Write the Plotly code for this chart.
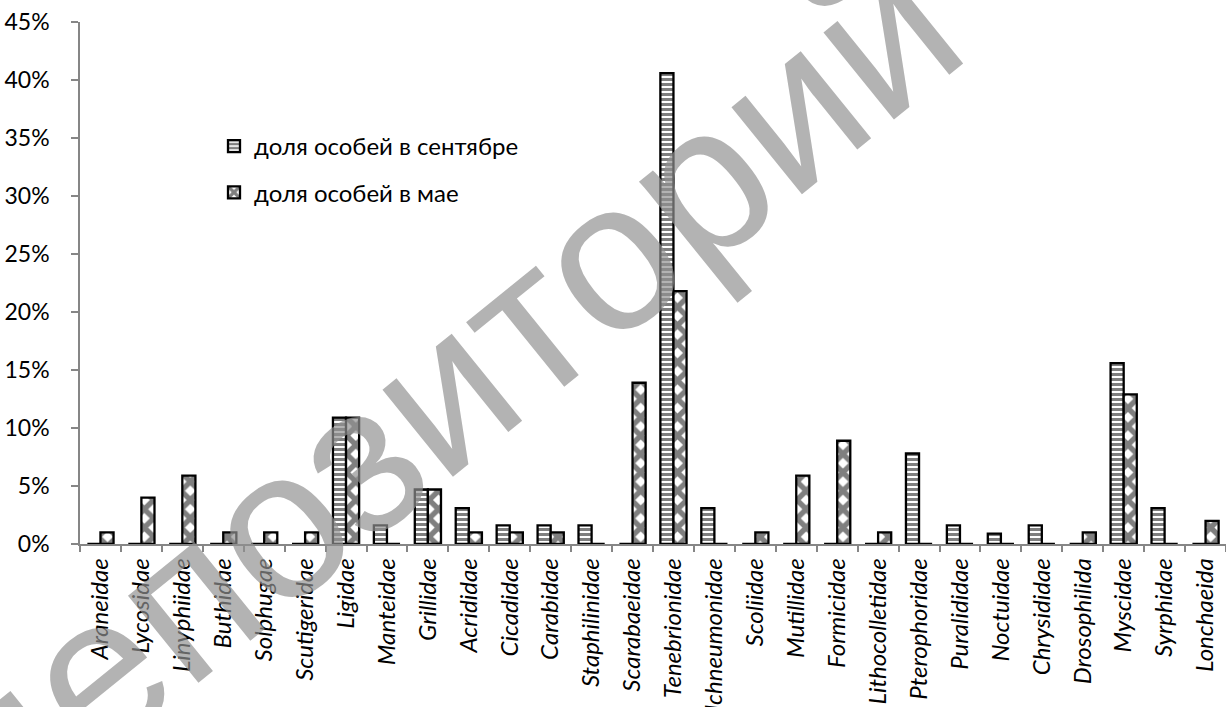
import plotly.graph_objects as go

categories = ["Araneidae", "Lycosidae", "Linyphiidae", "Buthidae", "Solphugae",
              "Scutigeridae", "Ligidae", "Manteidae", "Grillidae", "Acrididae",
              "Cicadidae", "Carabidae", "Staphilinidae", "Scarabaeidae",
              "Tenebrionidae", "Ichneumonidae", "Scoliidae", "Mutillidae",
              "Formicidae", "Lithocolletidae", "Pterophoridae", "Puralididae",
              "Noctuidae", "Chrysididae", "Drosophilida", "Myscidae",
              "Syrphidae", "Lonchaeida"]

september = [0, 0, 0, 0, 0, 0, 10.9, 1.6, 4.7, 3.1, 1.6, 1.6, 1.6, 0,
             40.6, 3.1, 0, 0, 0, 0, 7.8, 1.6, 0.9, 1.6, 0, 15.6, 3.1, 0]
may = [1.0, 4.0, 5.9, 1.0, 1.0, 1.0, 10.9, 0, 4.7, 1.0, 1.0, 1.0, 0, 13.9,
       21.8, 0, 1.0, 5.9, 8.9, 1.0, 0, 0, 0, 0, 1.0, 12.9, 0, 2.0]

series_names = ["доля особей в сентябре", "доля особей в мае"]
y_ticks = [0, 5, 10, 15, 20, 25, 30, 35, 40, 45]

W, H = 1226, 707
ML, MR, MT, MB = 80, 0, 22, 163
PW, PH = W - ML - MR, H - MT - MB

fig = go.Figure()
fig.add_trace(go.Bar(
    x=categories, y=september, name=series_names[0], legendgroup="a",
    marker=dict(color="white", line=dict(color="black", width=2.3),
                pattern=dict(shape="-", size=5, solidity=0.6,
                             fgcolor="black", bgcolor="white")),
))
fig.add_trace(go.Bar(
    x=categories, y=may, name=series_names[1], legendgroup="b",
    marker=dict(color="white", line=dict(color="black", width=2.3),
                pattern=dict(shape="x", size=13, solidity=0.65,
                             fgcolor="black", bgcolor="white")),
))

axis_gray = "#868686"
font_main = "Lato, 'Noto Sans', sans-serif"


def px2paper(px, py):
    return (px - ML) / PW, (H - MB - py) / PH


lx, ly = px2paper(214, 124)
fig.update_layout(
    width=W, height=H,
    margin=dict(l=ML, r=MR, t=MT, b=MB, pad=0),
    paper_bgcolor="white", plot_bgcolor="white",
    barmode="group", bargap=0.36, bargroupgap=0,
    showlegend=True,
    legend=dict(x=lx, y=ly, xanchor="left", yanchor="top",
                font=dict(family=font_main, size=24, color="black"),
                bgcolor="rgba(0,0,0,0)", traceorder="grouped",
                tracegroupgap=12),
    font=dict(family=font_main, color="black"),
)
fig.update_xaxes(
    type="category", tickson="boundaries", ticks="outside", ticklen=6,
    tickcolor=axis_gray, tickwidth=1.5, showline=True, linecolor=axis_gray,
    linewidth=1.5, showgrid=False, tickangle=-90,
    tickfont=dict(family=font_main, size=24, color="black", style="italic"),
    ticklabelstandoff=3, automargin=False,
)
fig.update_yaxes(
    range=[0, 45], tickvals=y_ticks, ticktext=[f"{v}%" for v in y_ticks],
    ticks="outside", ticklen=7, tickcolor=axis_gray, tickwidth=1.5,
    showline=True, linecolor=axis_gray, linewidth=1.5, showgrid=False,
    zeroline=False, tickfont=dict(family=font_main, size=23, color="black"),
    ticklabelstandoff=17, automargin=False,
)

# watermark
wx, wy = px2paper(440, 392)
fig.add_annotation(
    text="депозиторий", x=wx, y=wy, xref="paper", yref="paper",
    showarrow=False, textangle=-39, xanchor="center", yanchor="middle",
    font=dict(family="Liberation Sans, Arial, sans-serif", size=212,
              color="rgba(145,145,145,0.69)"),
)

fig.write_html("out.html",
               config={"displayModeBar": False},
               post_script="document.body.style.margin='0';"
                           "document.body.style.overflow='hidden';")
